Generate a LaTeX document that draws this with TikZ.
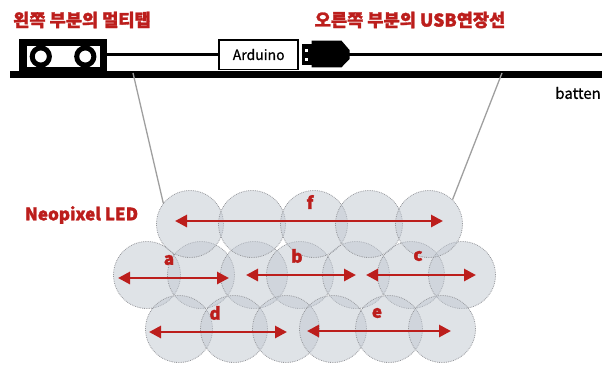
\documentclass[tikz,border=0pt]{standalone}
\usepackage{fontspec}
\setmainfont{Noto Sans CJK KR}[BoldFeatures={FakeBold=1.6}]
\newfontfamily\midweight{Noto Sans CJK KR}[FakeBold=0.8]
\usetikzlibrary{arrows.meta}
\definecolor{tagred}{RGB}{188,30,28}
\definecolor{ledfill}{RGB}{192,199,208}
\definecolor{ledline}{RGB}{150,152,156}
\tikzset{
  led/.style={circle, minimum size=67pt, inner sep=0pt, fill=ledfill, fill opacity=0.5,
              draw=ledline, draw opacity=1, line width=0.8pt, densely dotted},
  span/.style={draw=tagred, line width=2.8pt, {Triangle[length=12pt,width=12pt]}-{Triangle[length=12pt,width=12pt]}},
  spanlabel/.style={text=tagred, font=\bfseries\fontsize{17}{17}\selectfont},
  title/.style={text=tagred, font=\bfseries\fontsize{17.6}{17.6}\selectfont},
  hanger/.style={draw=gray!75, line width=1.3pt},
  cable/.style={draw=black, line width=3pt},
}
\begin{document}
\begin{tikzpicture}[x=1pt,y=-1pt]
\useasboundingbox (0,0) rectangle (602,367);

% titles
\node[title] (tapTitle) at (82,20) {왼쪽 부분의 멀티탭};
\node[title] (usbTitle) at (410,20) {오른쪽 부분의 USB연장선};

% batten bar
\fill[black] (10,70.7) rectangle (602,78.3);
\node[font=\midweight\fontsize{15}{15}\selectfont, anchor=east, inner sep=0pt] (battenLbl) at (601,93) {batten};

% power strip
\fill[black] (19.3,39.3) rectangle (106.7,71);
\fill[white] (26.7,45.5) rectangle (100,67.3);
\begin{scope}
  \clip (26.7,45.5) rectangle (100,67.3);
  \draw[black, line width=5pt] (40.8,56.5) circle (8.6);
  \draw[black, line width=5pt] (85.3,56.5) circle (8.6);
\end{scope}
\coordinate (tapOut) at (106.7,54.5);

% Arduino board
\node[draw=black, line width=1.5pt, fill=white, minimum width=79pt, minimum height=29.5pt,
      inner sep=0pt, font=\midweight\fontsize{14}{14}\selectfont] (ard) at (258.7,54.5) {Arduino};

% USB plug
\fill[black] (301.5,44) rectangle (312,64.5);
\fill[white] (304.5,48.5) rectangle (307.5,51.5);
\fill[white] (304.5,57.5) rectangle (307.5,60.5);
\fill[black] (311.5,40.7) -- (341.5,40.7) -- (349.5,50) -- (349.5,59) -- (341.5,67.3) -- (311.5,67.3) -- cycle;
\coordinate (plugOut) at (349,54.5);
\coordinate (cableEnd) at (602,54.5);

\draw[cable] (tapOut) -- (ard.west);
\draw[cable] (plugOut) -- (cableEnd);

% LED discs
\foreach \n/\x/\y in {m1/147/275, m2/201/275, m3/254/275, m4/300/275, m5/356/275, m6/411/275, m7/462/275,
                      t1/190/224, t2/252/224, t3/314/224, t4/369/224, t5/429/224,
                      b1/179/329, b2/234/329, b3/286/329, b4/333/329, b5/389/329, b6/442/329}
  \node[led] (\n) at (\x,\y) {};

% hanging wires
\coordinate (hangL) at (133,73);
\coordinate (hangR) at (502,73);
\draw[hanger] (hangL) -- (t1.142);
\draw[hanger] (hangR) -- (t5.46);

\node[title, font=\bfseries\fontsize{17}{17}\selectfont] (ledTitle) at (81.5,215) {Neopixel LED};

% spans
\coordinate (fL) at (175,221);  \coordinate (fR) at (443,221);
\coordinate (aL) at (118,278);  \coordinate (aR) at (229,278);
\coordinate (bL) at (246,275);  \coordinate (bR) at (356,275);
\coordinate (cL) at (366,275);  \coordinate (cR) at (476,275);
\coordinate (dL) at (149,332);  \coordinate (dR) at (287,332);
\coordinate (eL) at (307,331);  \coordinate (eR) at (451,331);
\draw[span] (fL) -- (fR);
\draw[span] (aL) -- (aR);
\draw[span] (bL) -- (bR);
\draw[span] (cL) -- (cR);
\draw[span] (dL) -- (dR);
\draw[span] (eL) -- (eR);
\node[spanlabel] (fLbl) at (310,202) {f};
\node[spanlabel] (aLbl) at (169,260) {a};
\node[spanlabel] (bLbl) at (297,256) {b};
\node[spanlabel] (cLbl) at (418,256) {c};
\node[spanlabel] (dLbl) at (215,313) {d};
\node[spanlabel] (eLbl) at (377,313) {e};
\end{tikzpicture}
\end{document}
